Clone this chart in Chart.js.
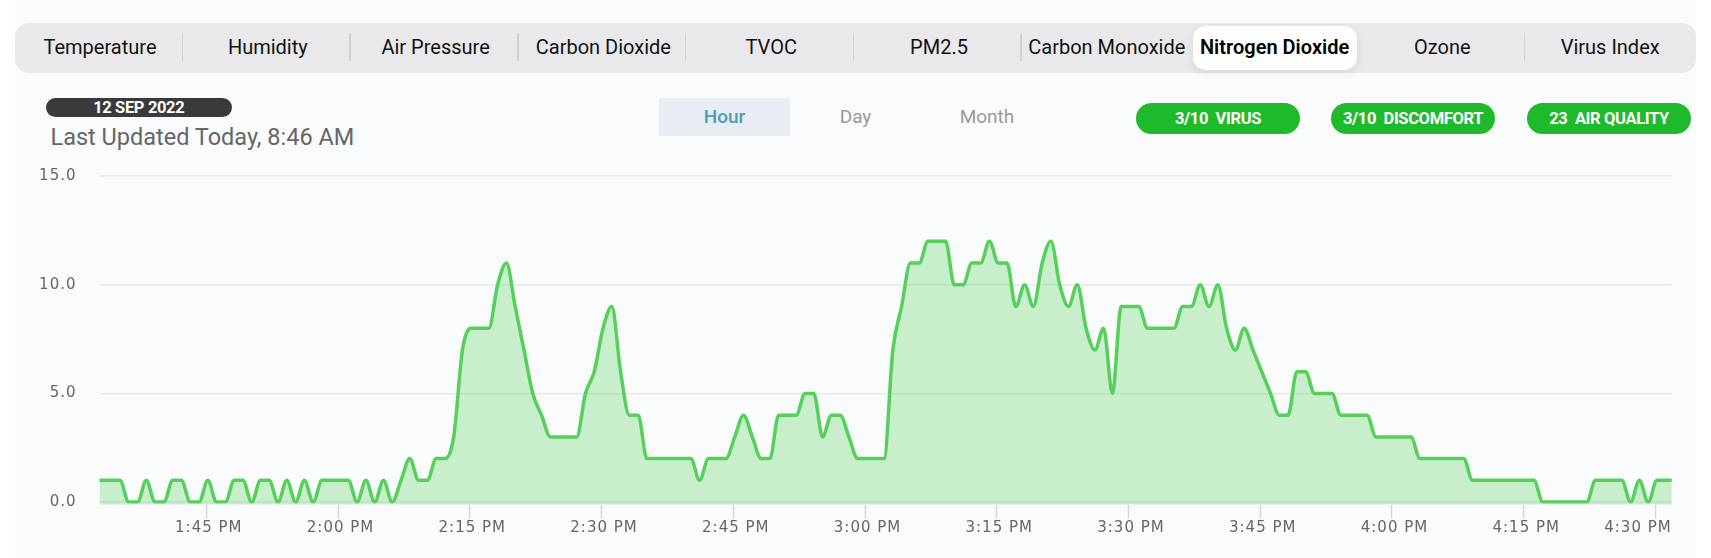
<!DOCTYPE html>
<html><head><meta charset="utf-8">
<script src="https://cdn.jsdelivr.net/npm/chart.js@4"></script>
<style>
html,body{margin:0;padding:0;background:#fff;width:1711px;height:558px;overflow:hidden;font-family:Roboto,sans-serif}
#card{position:absolute;left:15px;top:0;width:1681px;height:558px;background:#fafbfd}
.abs{position:absolute;white-space:pre;line-height:1}
#strip{position:absolute;left:15px;top:23px;width:1681px;height:50px;background:#e9e9eb;border-radius:14px}
.tab{position:absolute;transform:translate(-50%,-50%);top:46.5px;font-size:20px;color:#111;white-space:pre;line-height:1}
.sep{position:absolute;top:33px;height:28px;width:1.5px;background:#d2d2d4}
#sel{position:absolute;left:1193px;top:26px;width:164px;height:44px;background:#fff;border-radius:13px;box-shadow:0 3px 10px rgba(0,0,0,.08)}
.c{transform:translate(-50%,-50%)}
.pill{position:absolute;top:103px;height:31px;border-radius:16px;background:#1fba2c;color:#fff;font-weight:700;font-size:16.5px;letter-spacing:-.35px;line-height:31px;text-align:center;white-space:pre}
#wrap{position:absolute;left:0;top:142.5px;width:1711px;height:415.5px}
</style></head><body>
<div id="card"></div><div id="strip"></div><div id="sel"></div>
<div id="tabs"></div>
<div class="abs" style="left:46px;top:98px;width:185.5px;height:19px;border-radius:10px;background:#3a3a3a;color:#fff;font-weight:700;font-size:16.5px;letter-spacing:-.35px;line-height:19px;text-align:center">12 SEP 2022</div>
<div class="abs" style="left:50.5px;top:126px;font-size:23.5px;color:#666">Last Updated Today, 8:46 AM</div>
<div class="abs" style="left:659px;top:98px;width:131px;height:37.5px;background:#e8edf5"></div>
<div class="abs c" style="left:724.5px;top:116px;font-size:19px;font-weight:500;color:#4b9db5">Hour</div>
<div class="abs c" style="left:855.5px;top:116px;font-size:19px;color:#9a9a9a">Day</div>
<div class="abs c" style="left:987px;top:116px;font-size:19px;color:#9a9a9a">Month</div>
<div class="pill" style="left:1136px;width:164px">3/10  VIRUS</div>
<div class="pill" style="left:1331px;width:164px">3/10  DISCOMFORT</div>
<div class="pill" style="left:1527px;width:164px">23  AIR QUALITY</div>
<div id="wrap"><canvas id="c"></canvas></div>
<script>
const tabNames = ['Temperature','Humidity','Air Pressure','Carbon Dioxide','TVOC','PM2.5','Carbon Monoxide','Nitrogen Dioxide','Ozone','Virus Index'];
const selectedTab = 'Nitrogen Dioxide';
const no2Values = [
1,1,1,1,0,0,1,0,0,1,1,0,0,1,0,0,1,1,0,1,
1,0,1,0,1,0,1,1,1,1,0,1,0,1,0,1,2,1,1,2,
2,3,7,8,8,8,10,11,9,7,5,4,3,3,3,3,5,6,8,9,
6,4,4,2,2,2,2,2,2,1,2,2,2,3,4,3,2,2,4,4,
4,5,5,3,4,4,3,2,2,2,2,7,9,11,11,12,12,12,10,10,
11,11,12,11,11,9,10,9,11,12,10,9,10,8,7,8,5,9,9,9,
8,8,8,8,9,9,10,9,10,8,7,8,7,6,5,4,4,6,6,5,
5,5,4,4,4,4,3,3,3,3,3,2,2,2,2,2,2,1,1,1,
1,1,1,1,1,0,0,0,0,0,0,1,1,1,1,0,1,0,1,1,1];
const firstSampleMinute = 812.17;
const sampleMinutes = no2Values.map((_, i) => firstSampleMinute + i);
const tickMinutes = [825,840,855,870,885,900,915,930,945,960,975,990];
const tickLabels = ['1:45 PM','2:00 PM','2:15 PM','2:30 PM','2:45 PM','3:00 PM','3:15 PM','3:30 PM','3:45 PM','4:00 PM','4:15 PM','4:30 PM'];
const yTicks = [0,5,10,15];

const tabs = document.getElementById('tabs');
tabNames.forEach((t,i)=>{
  const d=document.createElement('div');d.className='tab';d.textContent=t;
  d.style.left=(100+167.8*i)+'px';
  if(t===selectedTab){d.style.fontWeight='600';d.style.color='#000';}
  tabs.appendChild(d);
  if(i<9 && i!==6 && i!==7){const s=document.createElement('div');s.className='sep';s.style.left=(181.5+167.75*i)+'px';tabs.appendChild(s);}
});

const clampLastLabel = {
  id:'clampLastLabel',
  beforeDraw(chart){
    chart.ctx.letterSpacing='1px';
    const s=chart.scales.x, items=s.getLabelItems(), last=items[items.length-1];
    const ctx=chart.ctx; ctx.save(); ctx.font=s.options.ticks.font.size+'px '+s.options.ticks.font.family;
    const w=ctx.measureText(String(last.label)).width; ctx.restore();
    last.options.translation[0]=Math.min(last.options.translation[0],chart.chartArea.right-w/2);
  }
};
const tickFont={family:'"DejaVu Sans"',size:15};
new Chart(document.getElementById('c'),{
  type:'line',
  plugins:[clampLastLabel],
  data:{datasets:[{
    data:no2Values.map((v,i)=>({x:sampleMinutes[i],y:v})),
    borderColor:'#55d05a',borderWidth:3.5,backgroundColor:'rgba(85,208,90,0.3)',
    fill:'start',pointRadius:0,cubicInterpolationMode:'monotone',clip:0
  }]},
  options:{
    responsive:true,maintainAspectRatio:false,animation:false,
    layout:{padding:{top:15.5,right:39.3,left:0,bottom:0}},
    plugins:{legend:{display:false},tooltip:{enabled:false}},
    scales:{
      x:{type:'linear',min:812.84,max:991.85,
        afterBuildTicks:a=>{a.ticks=tickMinutes.map(v=>({value:v}));},
        afterFit:a=>{a.height=55;},
        grid:{drawOnChartArea:false,drawTicks:true,tickLength:15,tickColor:'#d4d4e4',tickWidth:1.5},
        border:{color:'#dfe0ec',width:1.5},
        ticks:{autoSkip:false,maxRotation:0,font:tickFont,color:'#666',padding:1,labelOffset:2.5,
          callback:v=>tickLabels[tickMinutes.indexOf(v)]}},
      y:{min:-0.065,max:15.05,
        afterBuildTicks:a=>{a.ticks=yTicks.map(v=>({value:v}));},
        afterFit:a=>{a.width=99.5;},
        grid:{color:'#e6e8ee',lineWidth:1.5,drawTicks:false},
        border:{display:false},
        ticks:{font:tickFont,color:'#666',padding:23,callback:v=>v.toFixed(1)}}
    }
  }
});
</script></body></html>
